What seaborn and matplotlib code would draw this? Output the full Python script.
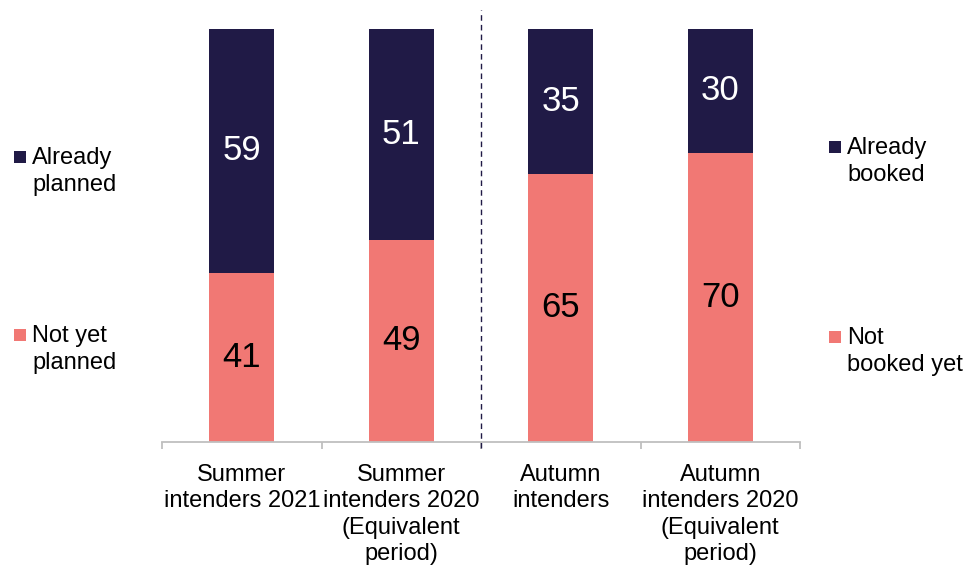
import numpy as np
import pandas as pd
import seaborn as sns
import matplotlib.pyplot as plt
from matplotlib.patches import Rectangle

categories = [
    "Summer\nintenders 2021",
    "Summer\nintenders 2020\n(Equivalent\nperiod)",
    "Autumn\nintenders",
    "Autumn\nintenders 2020\n(Equivalent\nperiod)",
]
already = [59, 51, 35, 30]
not_yet = [41, 49, 65, 70]

NAVY = "#201a46"
PINK = "#f17874"

sns.set_theme(style="white")
plt.rcParams["font.family"] = ["Liberation Sans", "DejaVu Sans"]

df = pd.DataFrame({"category": categories, "already": already, "not_yet": not_yet})
df["total"] = df["already"] + df["not_yet"]

fig = plt.figure(figsize=(9.69, 5.69), dpi=100)
ax = fig.add_axes([162 / 969, 1 - 442 / 569, 638 / 969, 413 / 569])

# stacked: totals in navy, then pink bottom segment over it
sns.barplot(data=df, x="category", y="total", color=NAVY, width=0.41,
            saturation=1, linewidth=0, ax=ax)
sns.barplot(data=df, x="category", y="not_yet", color=PINK, width=0.41,
            saturation=1, linewidth=0, ax=ax)

ax.set_xlim(-0.5, 3.5)
ax.set_ylim(0, 100)
ax.set_xlabel("")
ax.set_ylabel("")
ax.set_yticks([])
for s in ["top", "right", "left"]:
    ax.spines[s].set_visible(False)
ax.spines["bottom"].set_color("#bfbfbf")
ax.spines["bottom"].set_linewidth(1.3)

ax.set_xticks(range(len(categories)))
ax.set_xticklabels(categories, fontsize=17, color="black", linespacing=1.25)
ax.tick_params(axis="x", which="major", length=0, pad=16)
ax.set_xticks(np.arange(-0.5, len(categories), 1), minor=True)
ax.tick_params(axis="x", which="minor", length=5, width=1.3, color="#bfbfbf",
               direction="out", bottom=True)

# value labels
for i, (a, n) in enumerate(zip(already, not_yet)):
    ax.text(i, n / 2, f"{n}", ha="center", va="center", fontsize=25,
            color="black")
    ax.text(i, n + a / 2, f"{a}", ha="center", va="center", fontsize=25,
            color="white")

# dashed divider between summer and autumn
ax.plot([1.5, 1.5], [-0.015, 1.045], transform=ax.get_xaxis_transform(),
        color=NAVY, lw=1, ls=(0, (4, 3)), clip_on=False)

# side legends: (square x, square top y, colour, text)
items = [
    (14, 151, NAVY, "Already\nplanned"),
    (14, 329, PINK, "Not yet\nplanned"),
    (829, 141, NAVY, "Already\nbooked"),
    (829, 331, PINK, "Not\nbooked yet"),
]
for px, py, c, label in items:
    fig.add_artist(Rectangle((px / 969, 1 - (py + 12) / 569), 12 / 969, 12 / 569,
                             transform=fig.transFigure, color=c, lw=0))
    fig.text((px + 18) / 969, 1 - (py - 4) / 569, label, ha="left", va="top",
             fontsize=17, color="black", linespacing=1.3)

fig.savefig("out.png", dpi=100)
